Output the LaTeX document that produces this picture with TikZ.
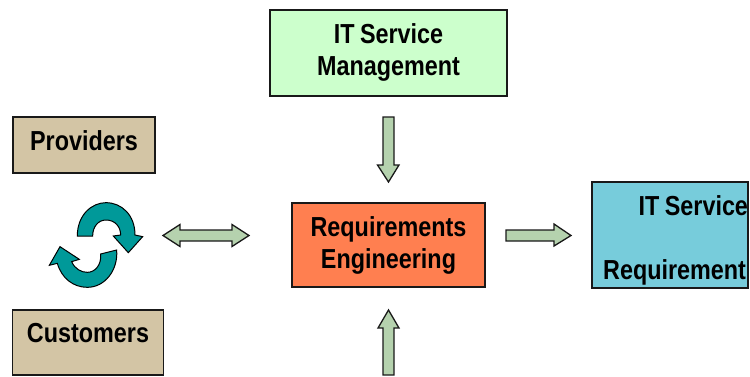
\documentclass[tikz,border=0pt]{standalone}
\usepackage{fontspec}
\setmainfont[FakeStretch=0.85]{Liberation Sans}
\definecolor{mint}{HTML}{CCFFCC}
\definecolor{sand}{HTML}{D3C5A5}
\definecolor{coral}{HTML}{FF7F50}
\definecolor{aqua}{HTML}{77CCDB}
\definecolor{sage}{HTML}{B5D2AE}
\definecolor{teal2}{HTML}{009999}
\tikzset{
  boxnode/.style={draw=black!90,line width=1.3pt,anchor=north west,inner sep=0pt,outer sep=0pt,align=center,
    font=\fontsize{27.5}{32}\selectfont\bfseries,execute at begin node={\spaceskip=5.5pt\relax}},
  blockarrow/.style={draw=black!90,line width=1.3pt,fill=sage,line join=miter},
  cyclearrow/.style={draw=black,line width=1pt,fill=teal2,line join=miter}
}
\begin{document}
\begin{tikzpicture}[x=1pt,y=-1pt]
\useasboundingbox (0,0) rectangle (750,376);
\node[boxnode,fill=mint,text width=237pt,text height=33pt,text depth=53pt] (itsm) at (270,10) {IT Service\\Management};
\node[boxnode,fill=sand,text width=142pt,text height=33pt,text depth=23pt] (prov) at (13,117) {Providers};
\node[boxnode,fill=sand,text width=151pt,text height=32pt,text depth=33pt] (cust) at (12.5,310) {Customers};
\node[boxnode,fill=coral,text width=193pt,text height=33pt,text depth=51pt] (req) at (292,203) {Requirements\\Engineering};
\node[boxnode,fill=aqua,align=right,text width=156pt,text height=33pt,text depth=73pt] (spec) at (592,182) {IT Service\\[32pt]Requirement\kern2pt};
% block arrows
\draw[blockarrow] (383,117) -- (394,117) -- (394,165) -- (399,165) -- (388.5,182) -- (377.5,165) -- (383,165) -- cycle;
\draw[blockarrow] (383,375) -- (394,375) -- (394,328) -- (399,328) -- (388.5,310) -- (378,328) -- (383,328) -- cycle;
\draw[blockarrow] (506,230) -- (554,230) -- (554,224) -- (571,235.5) -- (554,246) -- (554,241) -- (506,241) -- cycle;
\draw[blockarrow] (163,235.5) -- (180,224.5) -- (180,230) -- (232,230) -- (232,224.5) -- (249,235.5) -- (232,246.5) -- (232,241) -- (180,241) -- (180,246.5) -- cycle;
% cycle arrows
\begin{scope}[x=0.3333pt,y=-0.3333pt,yshift=-180pt]
\draw[cyclearrow] (232,168) .. controls (232,105) and (275,68) .. (318,68) .. controls (365,68) and (405,105) .. (405,165) -- (428,170) -- (385,218) -- (340,168) -- (362,165) .. controls (362,140) and (345,120) .. (318,120) .. controls (295,120) and (278,140) .. (278,168) -- cycle;
\draw[cyclearrow] (350,210) .. controls (355,270) and (315,322) .. (262,322) .. controls (220,322) and (185,295) .. (172,250) -- (148,256) -- (180,200) -- (238,238) -- (215,245) .. controls (225,268) and (245,277) .. (262,277) .. controls (285,277) and (305,255) .. (302,222) -- cycle;
\end{scope}
\end{tikzpicture}
\end{document}
